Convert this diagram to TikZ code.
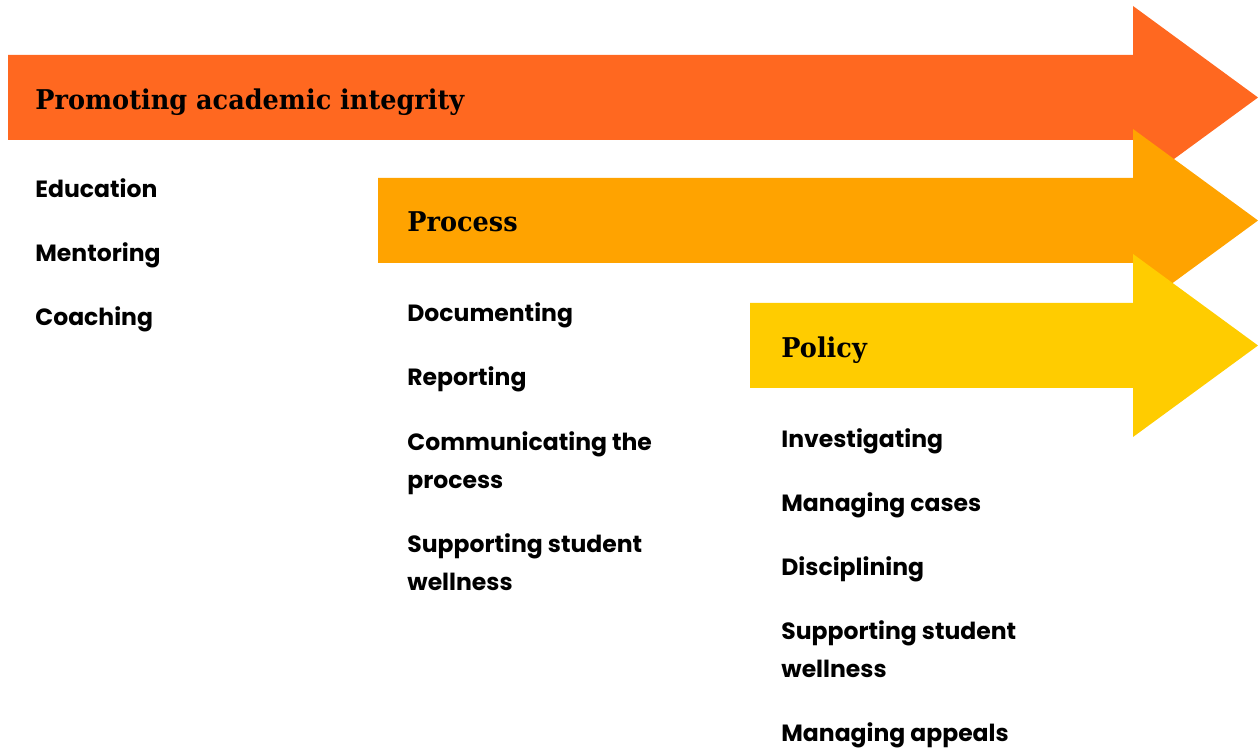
\documentclass[tikz,border=0pt]{standalone}
\usepackage{fontspec}
\newfontfamily\slabfont{DejaVu Serif}[FakeStretch=0.94]
\newfontfamily\itemfont{Poppins}
\definecolor{arrowA}{HTML}{FF6820}
\definecolor{arrowB}{HTML}{FFA300}
\definecolor{arrowC}{HTML}{FFCC00}
\begin{document}
\begin{tikzpicture}[x=0.5pt,y=-0.5pt,
  title/.style={anchor=base west,inner sep=0pt,font=\slabfont\bfseries\fontsize{13.6pt}{16pt}\selectfont},
  entry/.style={anchor=base west,inner sep=0pt,align=left,
    font=\itemfont\bfseries\fontsize{11.75pt}{19pt}\selectfont}]
\useasboundingbox (0,0) rectangle (1258,748);
% block arrows: shaft from x0 to 1133, head to tip at 1258
\fill[arrowA] (8,55) -- (1133,55) -- (1133,6) -- (1258,97.5) -- (1133,189) -- (1133,140) -- (8,140) -- cycle;
\fill[arrowB] (378,178) -- (1133,178) -- (1133,129) -- (1258,220.5) -- (1133,312) -- (1133,263) -- (378,263) -- cycle;
\fill[arrowC] (750,303) -- (1133,303) -- (1133,254) -- (1258,345.5) -- (1133,437) -- (1133,388) -- (750,388) -- cycle;
% headings
\node[title] (tA) at (35,110) {Promoting academic integrity};
\node[title] (tB) at (407,232) {Process};
\node[title] (tC) at (781,357.5) {Policy};
% first column
\node[entry] (a1) at (35,197.5) {Education};
\node[entry] (a2) at (35,261.5) {Mentoring};
\node[entry] (a3) at (35,325.5) {Coaching};
% second column (two-line entries are placed by their last baseline)
\node[entry] (b1) at (407,322) {Documenting};
\node[entry] (b2) at (407,386) {Reporting};
\node[entry] (b3) at (407,488) {Communicating the\\process};
\node[entry] (b4) at (407,590) {Supporting student\\wellness};
% third column
\node[entry] (c1) at (781,447.5) {Investigating};
\node[entry] (c2) at (781,511) {Managing cases};
\node[entry] (c3) at (781,575.5) {Disciplining};
\node[entry] (c4) at (781,677.5) {Supporting student\\wellness};
\node[entry] (c5) at (781,741.5) {Managing appeals};
\end{tikzpicture}
\end{document}
